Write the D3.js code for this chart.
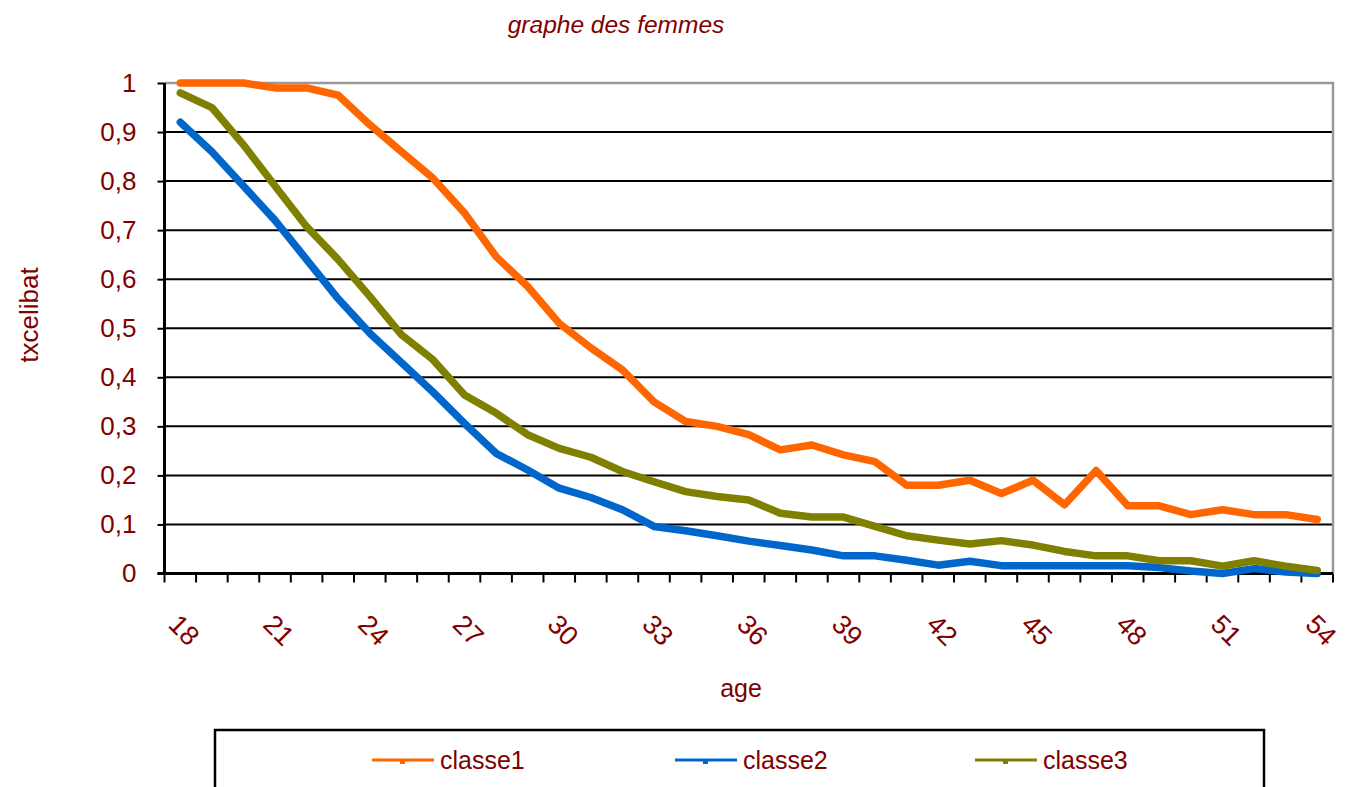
<!DOCTYPE html>
<html>
<head>
<meta charset="utf-8">
<script src="https://cdn.jsdelivr.net/npm/d3@7"></script>
<style>
    body { margin: 0; background: #fff; }
    svg { display: block; font-family: "Liberation Sans", Arial, sans-serif; }
</style>
</head>
<body>
<svg width="1346" height="787"></svg>
<script>
// ages (categories)
const ages = [18, 19, 20, 21, 22, 23, 24, 25, 26, 27, 28, 29, 30, 31, 32, 33, 34, 35, 36,
    37, 38, 39, 40, 41, 42, 43, 44, 45, 46, 47, 48, 49, 50, 51, 52, 53, 54];

const classe1 = [1.0, 1.0, 1.0, 0.99, 0.99, 0.975, 0.915, 0.86, 0.806, 0.735, 0.646, 0.585, 0.51,
    0.46, 0.415, 0.35, 0.31, 0.30, 0.283, 0.252, 0.262, 0.242, 0.228, 0.18, 0.18, 0.19,
    0.163, 0.19, 0.14, 0.21, 0.138, 0.138, 0.12, 0.13, 0.12, 0.12, 0.11];
const classe2 = [0.92, 0.86, 0.79, 0.72, 0.64, 0.56, 0.49, 0.43, 0.37, 0.306, 0.245, 0.211, 0.174,
    0.155, 0.13, 0.096, 0.087, 0.077, 0.066, 0.057, 0.048, 0.036, 0.036, 0.027, 0.017, 0.025,
    0.016, 0.016, 0.016, 0.016, 0.016, 0.012, 0.005, 0, 0.01, 0.003, 0];
const classe3 = [0.98, 0.95, 0.874, 0.79, 0.707, 0.64, 0.565, 0.487, 0.436, 0.364, 0.327, 0.283, 0.255,
    0.237, 0.208, 0.187, 0.167, 0.157, 0.15, 0.123, 0.115, 0.115, 0.096, 0.077, 0.068, 0.06,
    0.067, 0.058, 0.045, 0.036, 0.036, 0.026, 0.026, 0.015, 0.026, 0.015, 0.006];

const seriesNames = ['classe1', 'classe2', 'classe3'];
const seriesColors = ['#ff6600', '#0066cc', '#808000'];
const yTicks = [0, 0.1, 0.2, 0.3, 0.4, 0.5, 0.6, 0.7, 0.8, 0.9, 1];
const labelAges = [18, 21, 24, 27, 30, 33, 36, 39, 42, 45, 48, 51, 54];

const textColor = '#800000';
const plotLeft = 164.5, plotRight = 1333, plotTop = 83, plotBottom = 573.5;

const svg = d3.select('svg');

const x = d3.scaleBand().domain(ages).range([plotLeft, plotRight]).padding(0);
const y = d3.scaleLinear().domain([0, 1]).range([plotBottom, plotTop]);
const cx = d => x(d) + x.bandwidth() / 2;

// gridlines
svg.append('g')
    .selectAll('line')
    .data(yTicks.filter(t => t > 0 && t < 1))
    .join('line')
    .attr('x1', plotLeft).attr('x2', plotRight)
    .attr('y1', d => y(d)).attr('y2', d => y(d))
    .style('stroke', '#000')
    .style('stroke-width', 2);

// plot border (top + right, gray)
svg.append('path')
    .attr('d', `M${plotLeft},${y(1)}H${plotRight}V${plotBottom}`)
    .style('fill', 'none')
    .style('stroke', '#999')
    .style('stroke-width', 2.5);

// y axis
const yAxis = d3.axisLeft(y)
    .tickValues(yTicks)
    .tickSize(7)
    .tickPadding(21)
    .tickFormat(d => d === 0 ? '0' : d === 1 ? '1' : d.toFixed(1).replace('.', ','));

const gy = svg.append('g')
    .attr('transform', `translate(${plotLeft},0)`)
    .call(yAxis);
gy.select('.domain').remove();
gy.selectAll('.tick line').style('stroke', '#000').style('stroke-width', 2);
gy.selectAll('.tick text')
    .style('fill', textColor)
    .style('font-size', '26px');
svg.append('line')
    .attr('x1', plotLeft).attr('x2', plotLeft)
    .attr('y1', plotTop).attr('y2', plotBottom + 1)
    .style('stroke', '#000').style('stroke-width', 3);

// x axis: tick marks at category boundaries
svg.append('g')
    .selectAll('line')
    .data(ages.map(a => x(a)).concat([plotRight]))
    .join('line')
    .attr('x1', d => d).attr('x2', d => d)
    .attr('y1', plotBottom).attr('y2', plotBottom + 9)
    .style('stroke', '#000')
    .style('stroke-width', 2);

svg.append('line')
    .attr('x1', plotLeft - 7).attr('x2', plotRight)
    .attr('y1', plotBottom).attr('y2', plotBottom)
    .style('stroke', '#000').style('stroke-width', 3);

// x labels, rotated
svg.append('g')
    .selectAll('text')
    .data(labelAges)
    .join('text')
    .attr('transform', d => `translate(${cx(d) + 4},${630}) rotate(45)`)
    .attr('text-anchor', 'middle')
    .attr('dy', '0.35em')
    .style('fill', textColor)
    .style('font-size', '27px')
    .text(d => d);

// lines
const line = d3.line()
    .x((d, i) => cx(ages[i]))
    .y(d => y(d));

[classe1, classe2, classe3].forEach((vals, i) => {
    svg.append('path')
        .datum(vals)
        .attr('d', line)
        .style('fill', 'none')
        .style('stroke', seriesColors[i])
        .style('stroke-width', 7.5)
        .style('stroke-linejoin', 'round')
        .style('stroke-linecap', 'round');
});

// titles
svg.append('text')
    .attr('x', 616).attr('y', 33)
    .attr('text-anchor', 'middle')
    .style('font-style', 'italic')
    .style('font-size', '24.5px')
    .style('fill', textColor)
    .text('graphe des femmes');

svg.append('text')
    .attr('x', 741).attr('y', 697)
    .attr('text-anchor', 'middle')
    .style('font-size', '25px')
    .style('fill', textColor)
    .text('age');

svg.append('text')
    .attr('transform', 'translate(38,315) rotate(-90)')
    .attr('text-anchor', 'middle')
    .style('font-size', '26px')
    .style('fill', textColor)
    .text('txcelibat');

// legend
svg.append('rect')
    .attr('x', 215).attr('y', 730)
    .attr('width', 1049).attr('height', 70)
    .style('fill', '#fff')
    .style('stroke', '#000')
    .style('stroke-width', 2.5);

const legendX = [372, 675, 975];
const lg = svg.append('g')
    .selectAll('g')
    .data(seriesNames)
    .join('g')
    .attr('transform', (d, i) => `translate(${legendX[i]},760)`);

lg.append('line')
    .attr('x1', 0).attr('x2', 62)
    .style('stroke', (d, i) => seriesColors[i])
    .style('stroke-width', 3);
lg.append('rect')
    .attr('x', 28).attr('y', -1).attr('width', 5).attr('height', 5)
    .style('fill', (d, i) => seriesColors[i]);
lg.append('text')
    .attr('x', 68).attr('y', 9)
    .style('font-size', '25px')
    .style('fill', textColor)
    .text(d => d);
</script>
</body>
</html>
